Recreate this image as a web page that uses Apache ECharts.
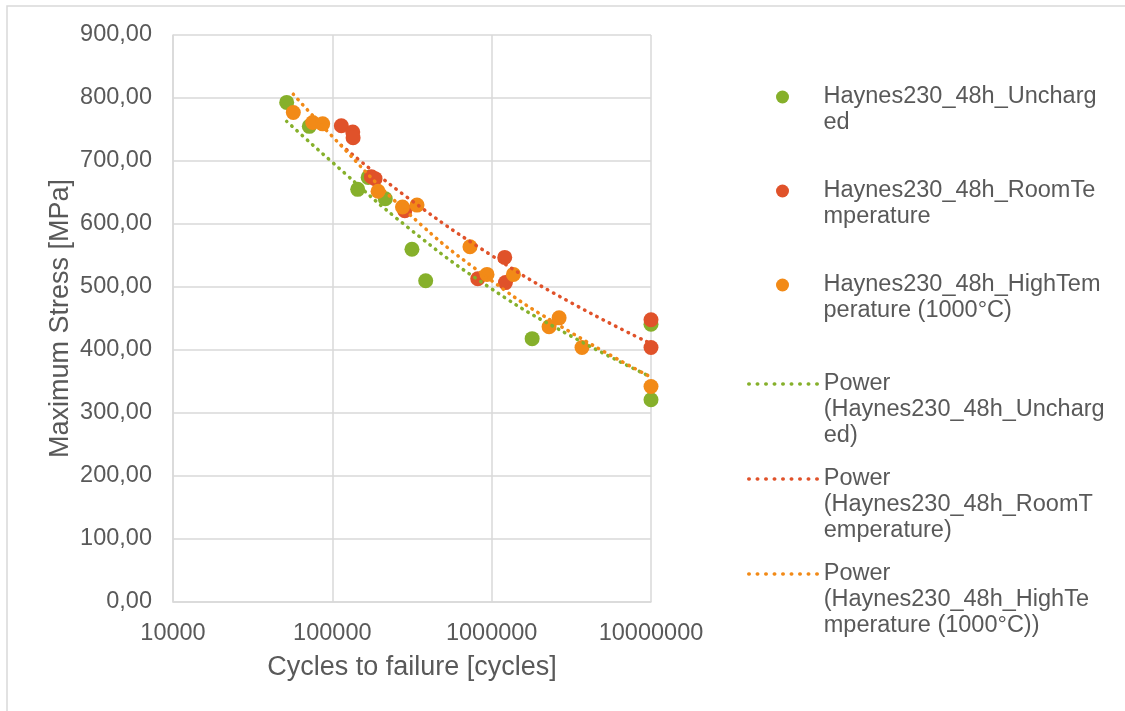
<!DOCTYPE html>
<html>
<head>
<meta charset="utf-8">
<script src="https://cdn.jsdelivr.net/npm/echarts@6/dist/echarts.min.js"></script>
<style>
  html, body { margin: 0; padding: 0; background: #fff; }
  #chart { width: 1125px; height: 711px; }
</style>
</head>
<body>
<div id="chart"></div>
<script>
// scatter data (cycles, MPa)
const unchargedX = [51700, 71700, 144300, 167800, 215000, 316000, 385500, 1795000, 10000000, 10000000]
const unchargedY = [793, 755, 655, 674, 640, 560, 510, 418, 441, 321]

const roomTempX = [113900, 134300, 135000, 175700, 185400, 285000, 818000, 1208000, 1220000, 10000000, 10000000]
const roomTempY = [756, 746, 737, 675, 672, 621, 513, 547, 507, 448, 404]

const highTempX = [56900, 75300, 87000, 193600, 275600, 340000, 731000, 935000, 1369000, 2292000, 2650000, 3690000, 10000000]
const highTempY = [777, 761, 759, 652, 627, 630, 564, 520, 520, 437, 451, 404, 342]

// power trendlines, points
const unchargedTrendX = [51700, 100000, 300000, 1000000, 3000000, 10000000]
const unchargedTrendY = [763, 698, 594, 497, 425, 357]
const roomTempTrendX = [113900, 300000, 1000000, 3000000, 10000000]
const roomTempTrendY = [725, 641, 550, 478, 410]
const highTempTrendX = [56900, 100000, 300000, 1000000, 3000000, 10000000]
const highTempTrendY = [806, 739, 617, 510, 431, 357]

const seriesNames = ['Haynes230_48h_Uncharged', 'Haynes230_48h_RoomTemperature', 'Haynes230_48h_HighTemperature (1000°C)']
const trendNames = seriesNames.map(n => 'Power (' + n + ')')
// legend text as wrapped in the original
const legendLabels = {
  'Haynes230_48h_Uncharged': ['Haynes230_48h_Uncharg', 'ed'],
  'Haynes230_48h_RoomTemperature': ['Haynes230_48h_RoomTe', 'mperature'],
  'Haynes230_48h_HighTemperature (1000°C)': ['Haynes230_48h_HighTem', 'perature (1000°C)'],
  'Power (Haynes230_48h_Uncharged)': ['Power', '(Haynes230_48h_Uncharg', 'ed)'],
  'Power (Haynes230_48h_RoomTemperature)': ['Power', '(Haynes230_48h_RoomT', 'emperature)'],
  'Power (Haynes230_48h_HighTemperature (1000°C))': ['Power', '(Haynes230_48h_HighTe', 'mperature (1000°C))']
}
const colors = ['#86B02B', '#E0522A', '#F28A17']

const yTicks = [0, 100, 200, 300, 400, 500, 600, 700, 800, 900]

function pairs(xs, ys) {
  return xs.map((x, i) => [x, ys[i]])
}

// legend text is centred on the icon, so pad with empty lines on top
// to keep the icon level with the first line (like Excel does)
function legendText(name) {
  const lines = legendLabels[name]
  const pad = new Array(lines.length - 1).fill('')
  return pad.concat(lines).join('\n')
}

const chartDom = echarts.init(document.getElementById('chart'))
const font = '"Liberation Sans", Arial, sans-serif'
const textColor = '#595959'
const gridColor = '#D9D9D9'
const lineH = 26

const scatterData = [pairs(unchargedX, unchargedY), pairs(roomTempX, roomTempY), pairs(highTempX, highTempY)]
const trendData = [
  pairs(unchargedTrendX, unchargedTrendY),
  pairs(roomTempTrendX, roomTempTrendY),
  pairs(highTempTrendX, highTempTrendY)
]

const series = []
seriesNames.forEach((name, i) => {
  series.push({
    name: name,
    type: 'scatter',
    data: scatterData[i],
    symbolSize: 15,
    itemStyle: { color: colors[i], opacity: 1 },
    z: 2 + i
  })
})
trendNames.forEach((name, i) => {
  series.push({
    name: name,
    type: 'line',
    data: trendData[i],
    smooth: true,
    symbol: 'none',
    lineStyle: { color: colors[i], width: 3.5, type: [0.5, 6.5], cap: 'round' },
    itemStyle: { color: colors[i] },
    z: 10 + i
  })
})

const option = {
  animation: false,
  textStyle: { fontFamily: font },
  graphic: [{
    type: 'rect',
    shape: { x: 7, y: 6, width: 1200, height: 800 },
    style: { fill: 'none', stroke: gridColor, lineWidth: 1.5 },
    silent: true
  }],
  grid: { left: 173, top: 35, width: 478, height: 567 },
  xAxis: {
    type: 'log',
    logBase: 10,
    min: 10000,
    max: 10000000,
    name: 'Cycles to failure [cycles]',
    nameLocation: 'middle',
    nameGap: 52,
    nameTextStyle: { fontSize: 27, color: textColor, fontFamily: font },
    axisLine: { lineStyle: { color: gridColor, width: 1.5 } },
    axisTick: { show: false },
    minorTick: { show: false },
    splitLine: { show: true, lineStyle: { color: gridColor, width: 1.5 } },
    axisLabel: {
      fontSize: 23.5,
      color: textColor,
      margin: 20,
      formatter: function(v) {
        return String(Math.round(v))
      }
    }
  },
  yAxis: {
    type: 'value',
    min: yTicks[0],
    max: yTicks[yTicks.length - 1],
    interval: 100,
    name: 'Maximum Stress [MPa]',
    nameLocation: 'middle',
    nameRotate: 90,
    nameGap: 99,
    nameTextStyle: { fontSize: 27, color: textColor, fontFamily: font },
    axisLine: { show: true, lineStyle: { color: gridColor, width: 1.5 } },
    axisTick: { show: false },
    splitLine: { lineStyle: { color: gridColor, width: 1.5 } },
    axisLabel: {
      fontSize: 23.5,
      color: textColor,
      margin: 21,
      formatter: function(v) {
        return v.toFixed(2).replace('.', ',')
      }
    }
  },
  legend: [{
    data: seriesNames,
    orient: 'vertical',
    left: 771,
    top: 53,
    icon: 'circle',
    itemWidth: 72,
    itemHeight: 13,
    itemGap: 16,
    formatter: legendText,
    textStyle: { fontSize: 23.5, lineHeight: lineH, color: textColor, fontFamily: font }
  }, {
    data: trendNames,
    orient: 'vertical',
    left: 742,
    top: 314,
    itemWidth: 70,
    itemHeight: 14,
    itemGap: -35,
    itemStyle: { opacity: 0 },
    lineStyle: { width: 3.5, type: [0.5, 8], cap: 'round' },
    formatter: legendText,
    textStyle: { fontSize: 23.5, lineHeight: lineH, color: textColor, fontFamily: font }
  }],
  series: series
}

chartDom.setOption(option)
</script>
</body>
</html>
